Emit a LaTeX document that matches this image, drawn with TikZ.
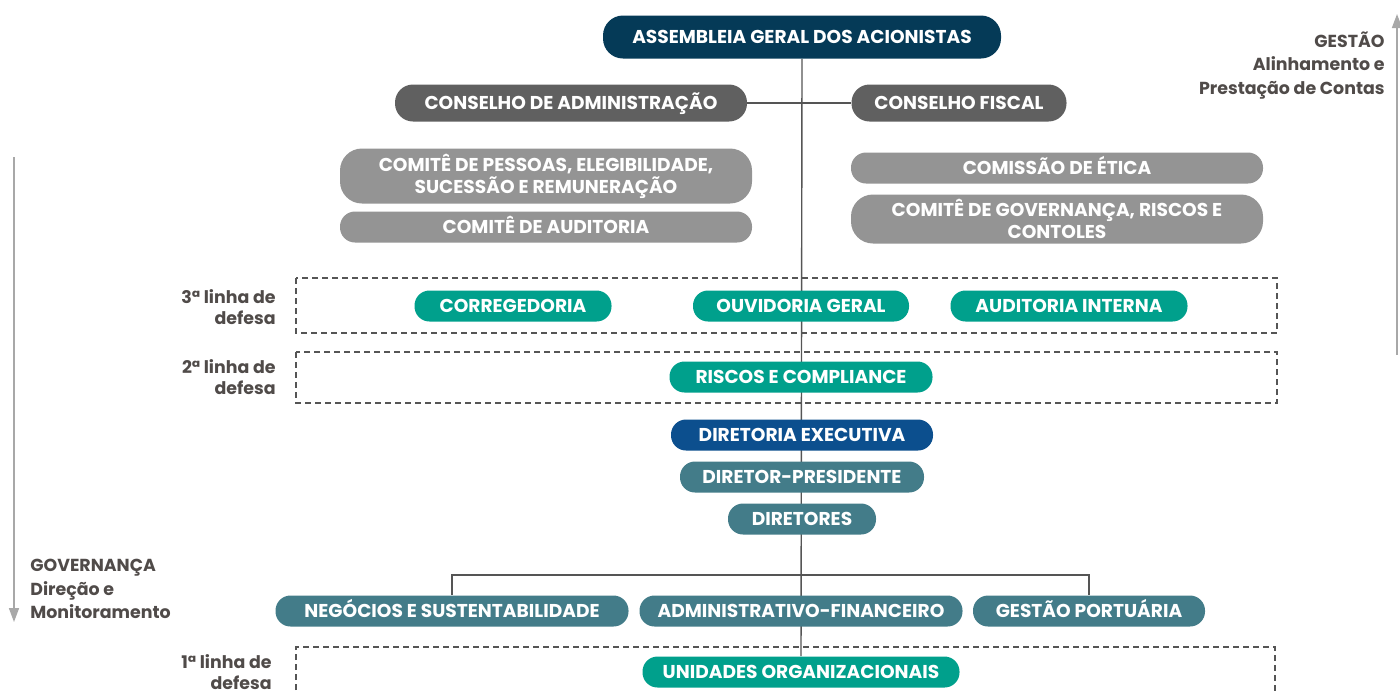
\documentclass[tikz,border=0pt]{standalone}
\usepackage{fontspec}
\setmainfont{Poppins}
\usetikzlibrary{arrows.meta,backgrounds}

\definecolor{navy}{HTML}{053A57}
\definecolor{cinzaescuro}{HTML}{606060}
\definecolor{cinza}{HTML}{949494}
\definecolor{verde}{HTML}{00A08C}
\definecolor{azul}{HTML}{0C4F8E}
\definecolor{petroleo}{HTML}{437C89}
\definecolor{texto}{HTML}{504B49}
\definecolor{linha}{HTML}{555555}
\definecolor{seta}{HTML}{A8A8A8}

\begin{document}
\begin{tikzpicture}[x=0.5pt,y=-0.5pt]
   \tikzstyle{every node}=[font=\bfseries\fontsize{9.3}{11}\selectfont, inner sep=0pt]
   \tikzstyle{pill}=[rounded corners=7.5pt, text=white, align=center, minimum height=15.5pt, text height=7.5pt, text depth=1pt]
   \tikzstyle{duaslinhas}=[text height={}, text depth={}]
   \tikzstyle{assembleia}=[pill, fill=navy, rounded corners=10pt, minimum height=21.5pt]
   \tikzstyle{conselho}=[pill, fill=cinzaescuro, rounded corners=9pt, minimum height=18.5pt]
   \tikzstyle{comite}=[pill, fill=cinza, minimum width=206pt]
   \tikzstyle{defesa}=[pill, fill=verde]
   \tikzstyle{diretoria}=[pill, fill=azul]
   \tikzstyle{diretor}=[pill, fill=petroleo]
   \tikzstyle{rotulo}=[text=texto, align=right, anchor=east, font=\bfseries\fontsize{8.7}{10.5}\selectfont]
   \tikzstyle{faixa}=[draw=linha, line width=0.7pt, dash pattern=on 3pt off 2pt]
   \tikzstyle{conector}=[draw=linha, line width=0.7pt]
   \tikzstyle{eixo}=[draw=seta, line width=0.8pt, -{Triangle[width=5pt,length=7pt]}]

\useasboundingbox (0,0) rectangle (1400,693);

% faixas das linhas de defesa
\draw[faixa] (296,278) rectangle (1277,333);
\draw[faixa] (296,352) rectangle (1277,403);
\draw[faixa] (296,700) -- (296,647) -- (1275,647) -- (1275,700);

\node[rotulo] (l3) at (276,307) {3ª linha de\\defesa};
\node[rotulo] (l2) at (276,377) {2ª linha de\\defesa};
\node[rotulo] (l1) at (272,672) {1ª linha de\\defesa};

% governanca
\node[assembleia, minimum width=199pt] (assembleia) at (802,37) {ASSEMBLEIA GERAL DOS ACIONISTAS};
\node[conselho, minimum width=176pt] (adm) at (571,103) {CONSELHO DE ADMINISTRAÇÃO};
\node[conselho, minimum width=107.5pt] (fiscal) at (959,103) {CONSELHO FISCAL};

\node[comite, duaslinhas, minimum height=27.5pt, rounded corners=11pt] (pessoas) at (546,176) {COMITÊ DE PESSOAS, ELEGIBILIDADE,\\SUCESSÃO E REMUNERAÇÃO};
\node[comite] (auditoria) at (546,227) {COMITÊ DE AUDITORIA};
\node[comite] (etica) at (1057,168) {COMISSÃO DE ÉTICA};
\node[comite, duaslinhas, minimum height=24.5pt, rounded corners=11pt] (governanca) at (1057,219) {COMITÊ DE GOVERNANÇA, RISCOS E\\CONTOLES};

\node[defesa, minimum width=98.5pt] (corregedoria) at (513,306) {CORREGEDORIA};
\node[defesa, minimum width=108pt] (ouvidoria) at (801,306) {OUVIDORIA GERAL};
\node[defesa, minimum width=118.5pt] (auditint) at (1069,306) {AUDITORIA INTERNA};
\node[defesa, minimum width=131.5pt] (riscos) at (801,377) {RISCOS E COMPLIANCE};

% gestao
\node[diretoria, minimum width=131pt] (diretoria) at (802,435) {DIRETORIA EXECUTIVA};
\node[diretor, minimum width=122pt] (presidente) at (802,477) {DIRETOR-PRESIDENTE};
\node[diretor, minimum width=74pt] (diretores) at (802,519) {DIRETORES};

\node[diretor, minimum width=176.5pt] (negocios) at (452,611) {NEGÓCIOS E SUSTENTABILIDADE};
\node[diretor, minimum width=161.5pt] (admfin) at (801,611) {ADMINISTRATIVO-FINANCEIRO};
\node[diretor, minimum width=116pt] (portuaria) at (1089,611) {GESTÃO PORTUÁRIA};

\node[defesa, minimum width=158.5pt] (unidades) at (801,672) {UNIDADES ORGANIZACIONAIS};

\coordinate (ramo) at (801,575);

\begin{scope}[on background layer]
\draw[conector] (assembleia.south) -- (unidades.north);
\draw[conector] (adm.east) -- (fiscal.west);
\draw[conector] (negocios.north) |- (ramo) -| (portuaria.north);
\end{scope}

% eixos laterais
\coordinate (govtopo) at (14,157);
\coordinate (govbase) at (14,622);
\draw[eixo] (govtopo) -- (govbase);
\node[text=texto, align=left, anchor=north west, font=\bfseries\fontsize{8.7}{11.75}\selectfont] (governanca) at (30,559) {GOVERNANÇA\\Direção e\\Monitoramento};

\coordinate (gesbase) at (1397,355);
\coordinate (gestopo) at (1397,14);
\draw[eixo] (gesbase) -- (gestopo);
\node[text=texto, align=right, anchor=north east, font=\bfseries\fontsize{8.7}{11.75}\selectfont] (gestao) at (1385,31) {GESTÃO\\Alinhamento e\\Prestação de Contas};

\end{tikzpicture}
\end{document}
